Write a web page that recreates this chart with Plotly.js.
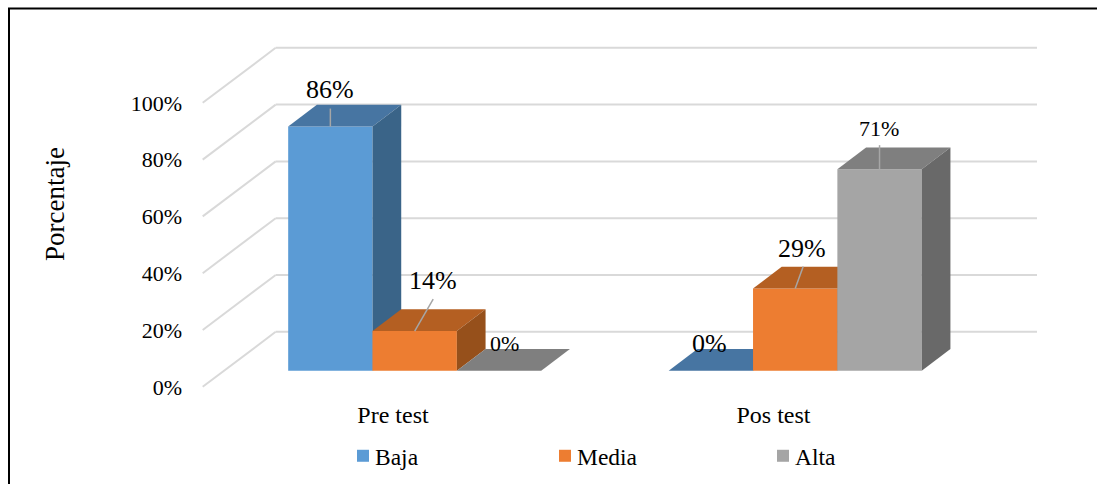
<!DOCTYPE html>
<html><head><meta charset="utf-8">
<script src="https://cdn.plot.ly/plotly-3.0.1.min.js"></script>
<style>html,body{margin:0;padding:0;background:#fff;overflow:hidden}#c{width:1097px;height:484px}
.legendtext,.legend2text,.legend3text{transform:translateX(-8px)}</style>
</head><body><div id="c"></div>
<script>
var categories = ['Pre test', 'Pos test'];
var baja = [86, 0];
var media = [14, 29];
var alta = [0, 71];
var yTicks = [0, 20, 40, 60, 80, 100];

// geometry of the pseudo-3D projection, in pixels
var W = 1097, H = 484;
var m = {l: 200, r: 57, t: 30, b: 0};
var pxX = 380.5, pxY = 2.84;      // px per category, px per percent
var x0px = 393, y0px = 386.8;     // where category 0 / value 0 sit on the front floor edge
var wallDx = 73, wallDy = 55;     // floor depth
var barDx = 21.7, barDy = 16;     // offset of the bar front from the floor edge
var depthDx = 28.7, depthDy = 21.7; // bar depth
var u = function (px) { return px / pxX; };
var v = function (px) { return px / pxY; };
var xRange = [u(m.l - x0px), u(W - m.r - x0px)];
var yRange = [v(y0px - (H - m.b)), v(y0px - m.t)];
var bargap = 0.335;
var bw = (1 - bargap) / 3;

var series = [
  {name: 'Baja',  values: baja,  front: '#5b9bd5', top: '#4775a2', side: '#3a6488'},
  {name: 'Media', values: media, front: '#ed7d31', top: '#b45f22', side: '#96501b'},
  {name: 'Alta',  values: alta,  front: '#a5a5a5', top: '#7f7f7f', side: '#696969'}
];
// label offset from the top-front centre of each bar, px: [dx, dy] per series / category
var labelOff = [[[-0.3, -37], [-1, -27]], [[18.5, -51], [6.5, -40]], [[5, -27], [-0.5, -41]]];
var leaderOff = [[[0, -18], null], [[18.5, -32], [8, -22]], [null, [0, -24]]];
var labelSize = [[26, 26], [26, 26], [22, 22]];

var traces = [], annotations = [], shapes = [];
series.forEach(function (s, i) {
  var sfx = i === 0 ? '' : String(i + 1);
  var xa = 'x' + sfx, ya = 'y' + sfx;
  traces.push({type: 'bar', name: s.name, x: categories.map(function (c, k) { return k + u(barDx); }),
    y: s.values, base: s.values.map(function () { return v(barDy); }), width: bw,
    offset: (i - 1.5) * bw, marker: {color: s.front, line: {width: 0}},
    xaxis: xa, yaxis: ya, legend: i === 0 ? 'legend' : 'legend' + (i + 1), hoverinfo: 'skip'});
  s.values.forEach(function (val, k) {
    var xl = k + u(barDx) + (i - 1.5) * bw, xr = xl + bw;
    var yb = v(barDy), yt = yb + val;
    var dx = u(depthDx), dy = v(depthDy);
    traces.push({type: 'scatter', mode: 'none', fill: 'toself', fillcolor: s.top, showlegend: false, hoverinfo: 'skip',
      x: [xl, xl + dx, xr + dx, xr, xl], y: [yt, yt + dy, yt + dy, yt, yt], xaxis: xa, yaxis: ya});
    if (val > 0) traces.push({type: 'scatter', mode: 'none', fill: 'toself', fillcolor: s.side, showlegend: false, hoverinfo: 'skip',
      x: [xr, xr + dx, xr + dx, xr, xr], y: [yb, yb + dy, yt + dy, yt, yb], xaxis: xa, yaxis: ya});
    var cx = (xl + xr) / 2;
    var off = labelOff[i][k];
    annotations.push({x: cx + u(off[0]), y: yt - v(off[1]), xref: 'x', yref: 'y', showarrow: false,
      text: val + '%', font: {family: 'Liberation Serif', size: labelSize[i][k], color: '#000'}, xanchor: 'center', yanchor: 'middle'});
    var l = leaderOff[i][k];
    if (l) shapes.push({type: 'line', layer: 'above', xref: 'x', yref: 'y', x0: cx, y0: yt, x1: cx + u(l[0]), y1: yt - v(l[1]),
      line: {color: '#a6a6a6', width: 1.5}});
  });
});

// floor-and-wall grid
yTicks.forEach(function (t) {
  var g = {color: '#d9d9d9', width: 2};
  shapes.push({type: 'line', layer: 'below', xref: 'x', yref: 'y', x0: u(202.7 - x0px), y0: t, x1: u(202.7 + wallDx - x0px), y1: t + v(wallDy), line: g});
  shapes.push({type: 'line', layer: 'below', xref: 'x', yref: 'y', x0: u(202.7 + wallDx - x0px), y0: t + v(wallDy), x1: u(1037 - x0px), y1: t + v(wallDy), line: g});
});

// outer frame (top and left only, as in the source)
var pw = W - m.l - m.r, ph = H - m.t - m.b;
var fx = function (p) { return (p - m.l) / pw; }, fy = function (p) { return (H - m.b - p) / ph; };
var frame = {color: '#000', width: 2};
shapes.push({type: 'line', layer: 'above', xref: 'paper', yref: 'paper', x0: fx(8), y0: fy(8.5), x1: fx(1097), y1: fy(8.5), line: frame});
shapes.push({type: 'line', layer: 'above', xref: 'paper', yref: 'paper', x0: fx(9), y0: fy(8), x1: fx(9), y1: fy(484), line: frame});

var serif = 'Liberation Serif';
// the y-axis title sits off the plot's vertical centre in the source
annotations.push({xref: 'paper', yref: 'paper', x: fx(55), y: fy(204), xanchor: 'center', yanchor: 'middle', textangle: -90, showarrow: false,
  text: 'Porcentaje', font: {family: serif, size: 27, color: '#000'}});

var legendAt = function (px) { return {x: fx(px), y: fy(456), xref: 'paper', yref: 'paper', xanchor: 'left', yanchor: 'middle',
  orientation: 'h', bgcolor: 'rgba(0,0,0,0)', font: {family: serif, size: 23.5, color: '#000'}, indentation: -8, itemwidth: 30}; };

var hidden = function (r, anchor) { return {range: r, visible: false, overlaying: anchor, fixedrange: true}; };
var layout = {
  width: W, height: H, margin: m, paper_bgcolor: '#fff', plot_bgcolor: 'rgba(0,0,0,0)',
  font: {family: serif, color: '#000'}, barmode: 'overlay',
  xaxis: {range: xRange, tickvals: categories.map(function (c, k) { return k; }), ticktext: categories, anchor: 'free', position: fy(398),
    showgrid: false, zeroline: false, showline: false, ticks: '', tickfont: {family: serif, size: 24, color: '#000'}, fixedrange: true},
  yaxis: {range: yRange, tickvals: yTicks, ticktext: yTicks.map(function (t) { return t + '%'; }),
    showgrid: false, zeroline: false, showline: false, ticks: '', tickfont: {family: serif, size: 22, color: '#000'}, ticklabelstandoff: 17, fixedrange: true},
  xaxis2: hidden(xRange, 'x'), yaxis2: hidden(yRange, 'y'),
  xaxis3: hidden(xRange, 'x'), yaxis3: hidden(yRange, 'y'),
  legend: legendAt(351), legend2: legendAt(553), legend3: legendAt(771),
  annotations: annotations, shapes: shapes, showlegend: true
};
Plotly.newPlot('c', traces, layout, {displayModeBar: false, staticPlot: true});
</script></body></html>
